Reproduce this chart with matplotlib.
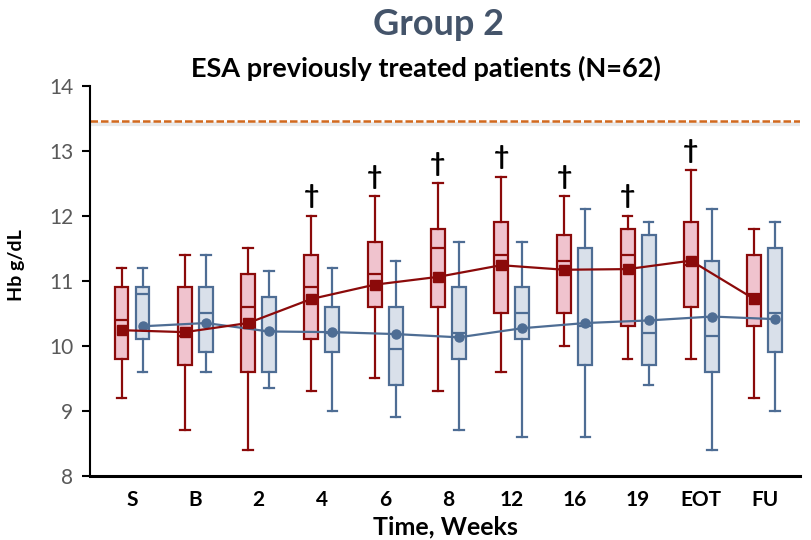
import matplotlib.pyplot as plt
import numpy as np

plt.rcParams['font.family'] = ['Lato', 'DejaVu Sans']

weeks = ["S", "B", "2", "4", "6", "8", "12", "16", "19", "EOT", "FU"]

# red boxes
red_whishi = [11.2, 11.4, 11.5, 12.0, 12.3, 12.5, 12.6, 12.3, 12.0, 12.7, 11.8]
red_q3 = [10.9, 10.9, 11.1, 11.4, 11.6, 11.8, 11.9, 11.7, 11.8, 11.9, 11.4]
red_med = [10.4, 10.15, 10.6, 10.9, 11.1, 11.5, 11.4, 11.3, 11.4, 11.25, 10.8]
red_q1 = [9.8, 9.7, 9.6, 10.1, 10.6, 10.6, 10.5, 10.5, 10.3, 10.6, 10.3]
red_whislo = [9.2, 8.7, 8.4, 9.3, 9.5, 9.3, 9.6, 10.0, 9.8, 9.8, 9.2]
red_mean = [10.24, 10.21, 10.35, 10.72, 10.94, 11.06, 11.24, 11.17, 11.18, 11.31, 10.72]

# blue boxes
blue_whishi = [11.2, 11.4, 11.15, 11.2, 11.3, 11.6, 11.6, 12.1, 11.9, 12.1, 11.9]
blue_q3 = [10.9, 10.9, 10.75, 10.6, 10.6, 10.9, 10.9, 11.5, 11.7, 11.3, 11.5]
blue_med = [10.8, 10.5, 10.22, 10.2, 9.95, 10.2, 10.5, 10.3, 10.2, 10.15, 10.5]
blue_q1 = [10.1, 9.9, 9.6, 9.9, 9.4, 9.8, 10.1, 9.7, 9.7, 9.6, 9.9]
blue_whislo = [9.6, 9.6, 9.35, 9.0, 8.9, 8.7, 8.6, 8.6, 9.4, 8.4, 9.0]
blue_mean = [10.30, 10.35, 10.22, 10.21, 10.18, 10.13, 10.27, 10.35, 10.39, 10.45, 10.41]

significant = [False, False, False, True, True, True, True, True, True, True, False]
ref_level = 13.46

RED = "#8B0A0A"
RED_FILL = "#F0C3CE"
BLUE = "#4E6D94"
BLUE_FILL = "#D9E0EA"


def make_stats(lo, q1, med, q3, hi):
    return [dict(whislo=a, q1=b, med=c, q3=d, whishi=e, fliers=[])
            for a, b, c, d, e in zip(lo, q1, med, q3, hi)]


fig = plt.figure(figsize=(8.11, 5.40), dpi=100)
ax = fig.add_axes([0.111, 0.119, 0.8755, 0.722])

x = np.arange(len(weeks))
off = 0.166
width = 0.22

for stats, pos, edge, fill in [
    (make_stats(red_whislo, red_q1, red_med, red_q3, red_whishi), x - off, RED, RED_FILL),
    (make_stats(blue_whislo, blue_q1, blue_med, blue_q3, blue_whishi), x + off, BLUE, BLUE_FILL),
]:
    ax.bxp(stats, positions=pos, widths=width, patch_artist=True, showfliers=False,
           boxprops=dict(facecolor=fill, edgecolor=edge, linewidth=1.6),
           medianprops=dict(color=edge, linewidth=1.6),
           whiskerprops=dict(color=edge, linewidth=1.6),
           capprops=dict(color=edge, linewidth=1.6),
           capwidths=0.15, manage_ticks=False, zorder=2)

ax.plot(x - off, red_mean, color=RED, lw=1.6, marker="s", ms=6.5, zorder=4)
ax.plot(x + off, blue_mean, color=BLUE, lw=1.6, marker="o", ms=6.5, zorder=3)

# significance daggers
for xi, hi, s in zip(x, red_whishi, significant):
    if s:
        ax.text(xi - off, hi + 0.12, "†", ha="center", va="bottom",
                fontsize=19, fontweight="bold", color="black")

# reference line with soft shadow
ax.axhline(ref_level - 0.05, color="#BBBBBB", lw=3, alpha=0.3, zorder=1)
ax.axhline(ref_level, color="#D2691E", lw=1.8, ls=(0, (3, 1.2)), zorder=2)

ax.set_xlim(-0.664, 10.56)
ax.set_ylim(8, 14)
ax.set_yticks(range(8, 15))
ax.set_xticks(x)
ax.set_xticklabels(weeks, fontsize=15, fontweight="bold")
ax.tick_params(axis="x", length=0, pad=10)
ax.tick_params(axis="y", length=6, width=1.5, labelsize=15, labelcolor="#595959", pad=6)

for side in ["top", "right"]:
    ax.spines[side].set_visible(False)
ax.spines["left"].set_linewidth(1.5)
ax.spines["bottom"].set_linewidth(2.2)

ax.set_xlabel("Time, Weeks", fontsize=18, fontweight="bold", labelpad=4)
ax.set_ylabel("Hb g/dL", fontsize=14, fontweight="bold")
ax.yaxis.set_label_coords(-0.092, 0.54)

fig.text(0.541, 0.955, "Group 2", ha="center", va="center", fontsize=26,
         fontweight="bold", color="#44546A")
fig.text(0.525, 0.873, "ESA previously treated patients (N=62)", ha="center",
         va="center", fontsize=19.5, fontweight="bold", color="black")

fig.savefig("out.png", dpi=100)
